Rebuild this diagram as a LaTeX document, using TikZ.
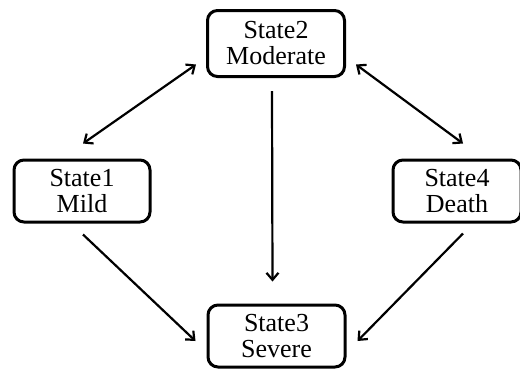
\documentclass[tikz,border=0pt]{standalone}
\usepackage{fontspec}
\setmainfont{Liberation Serif}
\usetikzlibrary{arrows.meta}
\begin{document}
\begin{tikzpicture}[x=1pt,y=-1pt,
  statebox/.style={draw=black, line width=3pt, rounded corners=10pt, align=center,
    font=\fontsize{26}{26}\selectfont, inner sep=0pt},
  conn/.style={line width=2.2pt, -{Straight Barb[length=7pt,width=12pt,line width=2.2pt]}},
  biconn/.style={line width=2.2pt, {Straight Barb[length=7pt,width=12pt,line width=2.2pt]}-{Straight Barb[length=7pt,width=12pt,line width=2.2pt]}}]
\useasboundingbox (0,0) rectangle (520,368);
\node[statebox, minimum width=137pt, minimum height=66pt] (s2) at (276,43.5) {State2\\Moderate};
\node[statebox, minimum width=136pt, minimum height=62pt] (s1) at (82,191) {State1\\Mild};
\node[statebox, minimum width=128pt, minimum height=62pt] (s4) at (457,191) {State4\\Death};
\node[statebox, minimum width=137pt, minimum height=62pt] (s3) at (276.5,336) {State3\\Severe};
\draw[biconn] ([shift={(-10,21)}]s2.west) -- ([shift={(1,-15)}]s1.north);
\draw[biconn] ([shift={(10,21)}]s2.east) -- ([shift={(6,-15)}]s4.north);
\draw[conn] ([shift={(-4,13)}]s2.south) -- ([shift={(-4,-22)}]s3.north);
\draw[conn] ([shift={(1,11)}]s1.south) -- ([shift={(-11,5)}]s3.west);
\draw[conn] ([shift={(6,10)}]s4.south) -- ([shift={(11,5)}]s3.east);
\end{tikzpicture}
\end{document}
